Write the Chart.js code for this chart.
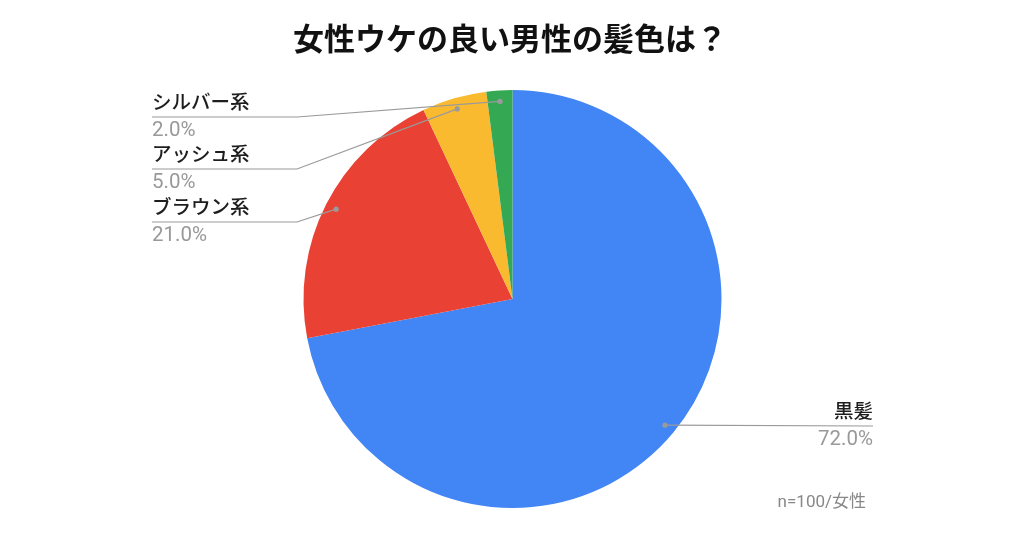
<!DOCTYPE html>
<html>
<head>
<meta charset="utf-8">
<script src="https://cdn.jsdelivr.net/npm/chart.js@4"></script>
<style>
  html, body { margin: 0; padding: 0; background: #fff; }
  #wrap { width: 1024px; height: 538px; }
</style>
</head>
<body>
<div id="wrap"><canvas id="hairChart"></canvas></div>
<script>
// hair colour survey pie

const categories = ['黒髪', 'ブラウン系', 'アッシュ系', 'シルバー系'];
const shares = [72.0, 21.0, 5.0, 2.0];
const sliceColors = ['#4285F4', '#E94235', '#F9BA2F', '#34A853'];
const titleText = '女性ウケの良い男性の髪色は？';
const noteText = 'n=100/女性';

const FONT = 'Roboto, "Noto Sans CJK JP", sans-serif';

// where each label sits: side, text x, underline y, underline end x
const labelSpots = [
    { side: 'right', x: 873, lineY: 426 },
    { side: 'left', x: 152, lineY: 222, elbow: 297 },
    { side: 'left', x: 152, lineY: 169, elbow: 297 },
    { side: 'left', x: 152, lineY: 117, elbow: 297 }
];

const labelPlugin = {
    id: 'leaderLabels',
    afterDraw(chart) {
        const ctx = chart.ctx;
        const arcs = chart.getDatasetMeta(0).data;
        ctx.save();

        // title
        ctx.fillStyle = '#111';
        ctx.font = 'bold 31px "Noto Sans CJK JP", sans-serif';
        ctx.textAlign = 'center';
        ctx.textBaseline = 'middle';
        ctx.fillText(titleText, 510, 38);

        arcs.forEach((arc, i) => {
            const mid = (arc.startAngle + arc.endAngle) / 2;
            const d = arc.outerRadius * 0.947;
            const px = arc.x + Math.cos(mid) * d;
            const py = arc.y + Math.sin(mid) * d;
            const spot = labelSpots[i];

            ctx.strokeStyle = '#9a9a9a';
            ctx.lineWidth = 1.2;
            ctx.beginPath();
            if (spot.side === 'right') {
                ctx.moveTo(px, py);
                ctx.lineTo(spot.x, spot.lineY);
            } else {
                ctx.moveTo(spot.x, spot.lineY);
                ctx.lineTo(spot.elbow, spot.lineY);
                ctx.lineTo(px, py);
            }
            ctx.stroke();

            ctx.fillStyle = '#9a9a9a';
            ctx.beginPath();
            ctx.arc(px, py, 2.6, 0, Math.PI * 2);
            ctx.fill();

            ctx.textAlign = spot.side === 'right' ? 'right' : 'left';
            ctx.textBaseline = 'middle';
            ctx.fillStyle = '#1e1e1e';
            ctx.font = '500 19.5px ' + FONT;
            ctx.fillText(categories[i], spot.x, spot.lineY - 13);
            ctx.fillStyle = '#999';
            ctx.font = '20.5px ' + FONT;
            ctx.fillText(shares[i].toFixed(1) + '%', spot.x, spot.lineY + 14);
        });

        ctx.fillStyle = '#888';
        ctx.font = '17px ' + FONT;
        ctx.textAlign = 'right';
        ctx.fillText(noteText, 866, 503);
        ctx.restore();
    }
};

new Chart(document.getElementById('hairChart').getContext('2d'), {
    type: 'pie',
    data: {
        labels: categories,
        datasets: [{
            data: shares,
            backgroundColor: sliceColors,
            borderWidth: 0
        }]
    },
    options: {
        responsive: true,
        maintainAspectRatio: false,
        animation: false,
        layout: { padding: { top: 90, bottom: 30, left: 303, right: 302 } },
        plugins: {
            legend: { display: false },
            title: { display: false },
            tooltip: { enabled: false }
        }
    },
    plugins: [labelPlugin]
});
</script>
</body>
</html>
